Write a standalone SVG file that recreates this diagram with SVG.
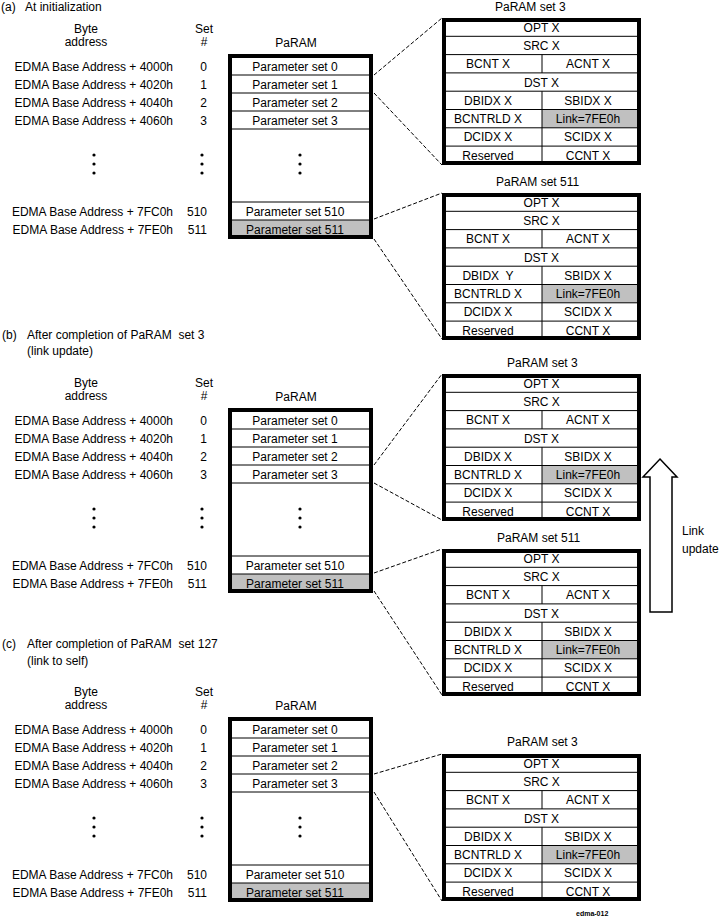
<svg xmlns="http://www.w3.org/2000/svg" xmlns:xlink="http://www.w3.org/1999/xlink" width="719" height="918" viewBox="0 0 719 918">
<style>
text{font-family:"Liberation Sans",Arial,sans-serif;font-size:12px;fill:#000}
.m{text-anchor:middle}
.e{text-anchor:end}
.thin{stroke:#000;stroke-width:1;fill:none}
.frame{stroke:#000;stroke-width:4;fill:none}
.gray{fill:#c0c0c0}
.dash{stroke:#000;stroke-width:1;fill:none;stroke-dasharray:4 2}
.tiny{font-size:7px;font-weight:bold}
</style>
<defs>
<g id="tblGrid">
<rect class="gray" x="100" y="91.5" width="97" height="18.3"/>
<path class="thin" d="M2 18.3H197M2 36.6H197M2 54.9H197M2 73.2H197M2 91.5H197M2 109.8H197M2 128.1H197M100 36.6V54.9M100 73.2V145"/>
<rect class="frame" x="2" y="2" width="195" height="143"/>
</g>
<g id="tblText">
<text class="m" x="99.5" y="13.8">OPT X</text>
<text class="m" x="99.5" y="32">SRC X</text>
<text class="m" x="46" y="50.2">BCNT X</text>
<text class="m" x="146" y="50.2">ACNT X</text>
<text class="m" x="99.5" y="68.5">DST X</text>
<text class="m" x="146" y="86.8">SBIDX X</text>
<text class="m" x="46" y="105.1">BCNTRLD X</text>
<text class="m" x="146" y="105.1">Link=7FE0h</text>
<text class="m" x="46" y="123.4">DCIDX X</text>
<text class="m" x="146" y="123.4">SCIDX X</text>
<text class="m" x="46" y="141.5">Reserved</text>
<text class="m" x="146" y="141.5">CCNT X</text>
</g>
<g id="section">
<text class="m" x="86" y="33">Byte</text>
<text class="m" x="86" y="46">address</text>
<text class="m" x="204" y="33">Set</text>
<text class="m" x="204" y="46">#</text>
<text class="m" x="296" y="47">PaRAM</text>
<rect class="gray" x="230" y="220" width="141" height="17"/>
<path class="thin" d="M230 75H371M230 93H371M230 111H371M230 129H371M230 202H371M230 220H371"/>
<rect class="frame" x="230" y="56" width="141" height="181"/>
<text class="e" x="173" y="71">EDMA Base Address + 4000h</text>
<text class="e" x="173" y="89">EDMA Base Address + 4020h</text>
<text class="e" x="173" y="107">EDMA Base Address + 4040h</text>
<text class="e" x="173" y="125">EDMA Base Address + 4060h</text>
<text class="e" x="173" y="216">EDMA Base Address + 7FC0h</text>
<text class="e" x="173" y="234">EDMA Base Address + 7FE0h</text>
<text class="e" x="207" y="71">0</text>
<text class="e" x="207" y="89">1</text>
<text class="e" x="207" y="107">2</text>
<text class="e" x="207" y="125">3</text>
<text class="e" x="207" y="216">510</text>
<text class="e" x="207" y="234">511</text>
<text class="m" x="295" y="71">Parameter set 0</text>
<text class="m" x="295" y="89">Parameter set 1</text>
<text class="m" x="295" y="107">Parameter set 2</text>
<text class="m" x="295" y="125">Parameter set 3</text>
<text class="m" x="295" y="216">Parameter set 510</text>
<text class="m" x="295" y="234">Parameter set 511</text>
<g fill="#000">
<circle cx="94" cy="155" r="1.6"/><circle cx="94" cy="164" r="1.6"/><circle cx="94" cy="173" r="1.6"/>
<circle cx="202" cy="155" r="1.6"/><circle cx="202" cy="164" r="1.6"/><circle cx="202" cy="173" r="1.6"/>
<circle cx="300" cy="155" r="1.6"/><circle cx="300" cy="164" r="1.6"/><circle cx="300" cy="173" r="1.6"/>
</g>
</g>
</defs>

<g id="section-a">
<text x="1" y="10.5">(a)</text>
<text x="25" y="10.5">At initialization</text>
<use xlink:href="#section"/>
</g>
<g id="section-b">
<text x="2" y="339">(b)</text>
<text x="27" y="339" xml:space="preserve">After completion of PaRAM  set 3</text>
<text x="27" y="355">(link update)</text>
<use xlink:href="#section" transform="translate(0,354)"/>
</g>
<g id="section-c">
<text x="2" y="648">(c)</text>
<text x="27" y="648" xml:space="preserve">After completion of PaRAM  set 127</text>
<text x="27" y="665">(link to self)</text>
<use xlink:href="#section" transform="translate(0,663)"/>
</g>

<g id="table-a-set3">
<text x="495" y="11">PaRAM set 3</text>
<g transform="translate(442,18)">
<use xlink:href="#tblGrid"/><use xlink:href="#tblText"/>
<text class="m" x="46" y="86.8">DBIDX X</text>
</g>
</g>
<g id="table-a-set511">
<text x="496" y="186">PaRAM set 511</text>
<g transform="translate(442,193)">
<use xlink:href="#tblGrid"/><use xlink:href="#tblText"/>
<text class="m" x="46" y="86.8" xml:space="preserve">DBIDX  Y</text>
</g>
</g>
<g id="table-b-set3">
<text x="507" y="367">PaRAM set 3</text>
<g transform="translate(442,374)">
<use xlink:href="#tblGrid"/><use xlink:href="#tblText"/>
<text class="m" x="46" y="86.8">DBIDX X</text>
</g>
</g>
<g id="table-b-set511">
<text x="497" y="542">PaRAM set 511</text>
<g transform="translate(442,549)">
<use xlink:href="#tblGrid"/><use xlink:href="#tblText"/>
<text class="m" x="46" y="86.8">DBIDX X</text>
</g>
</g>
<g id="table-c-set3">
<text x="507" y="746">PaRAM set 3</text>
<g transform="translate(442,754)">
<use xlink:href="#tblGrid"/><use xlink:href="#tblText"/>
<text class="m" x="46" y="86.8">DBIDX X</text>
</g>
</g>

<g id="link-update">
<polygon points="660,459 677,477 672,477 672,612 650,612 650,477 643,477" fill="#fff" stroke="#000" stroke-width="1.5"/>
<text x="682" y="535">Link</text>
<text x="682" y="553">update</text>
</g>

<g id="connectors">
<path class="dash" d="M374 75L442 18M374 93L442 165"/>
<path class="dash" d="M374 219L442 193M374 239L442 339"/>
<path class="dash" d="M374 465L442 374M374 483L442 520"/>
<path class="dash" d="M374 573L442 549M374 591L442 695"/>
<path class="dash" d="M374 774L442 754M374 792L442 901"/>
</g>

<text class="tiny" x="576" y="916">edma-012</text>
</svg>
